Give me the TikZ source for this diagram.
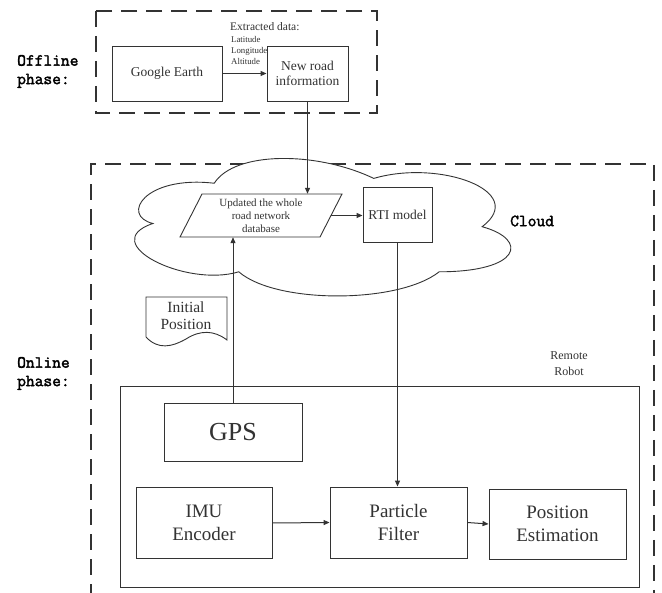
\documentclass[tikz,border=0pt]{standalone}
\usepackage{fontspec}
\setmainfont{Liberation Serif}
\newfontfamily\monof{Latin Modern Mono}[FakeBold=2.2]
\usetikzlibrary{arrows.meta}
\definecolor{ln}{HTML}{333333}
\newcommand\fsz[2]{\fontsize{#1}{#2}\selectfont}
\tikzset{
  box/.style={draw=ln, line width=0.9pt, inner sep=0pt, align=center, text=ln},
  arr/.style={draw=ln, line width=1pt, -{Triangle[length=6pt,width=5pt]}},
  dashbox/.style={draw=ln, line width=1.4pt, dash pattern=on 16pt off 9pt},
  phase/.style={font=\monof\fsz{17}{18.5}, align=left, anchor=west, inner sep=0pt, text=black},
  plain/.style={inner sep=0pt, align=center, text=ln},
  outline/.style={draw=ln, line width=0.9pt},
}
\begin{document}
\begin{tikzpicture}[x=1pt,y=-1pt]
\useasboundingbox (0,0) rectangle (662,593);
\fill[white] (0,0) rectangle (662,593);
% phase frames
\draw[dashbox] (96,11) rectangle (377,113);
\draw[dashbox] (91,600) -- (91,164) -- (654,164) -- (654,600);
\node[phase] (off) at (17,71.5) {Offline\\phase:};
\node[phase] (on) at (17,373.5) {Online\\phase:};
\node[phase] (cl) at (510,221) {Cloud};
% cloud
\begin{scope}[shift={(112,143)}, x=409pt, y=-161pt]
\draw[outline, fill=white] (0.25,0.25)
  .. controls (0.08,0.2) and (0.02,0.45) .. (0.1,0.5)
  .. controls (-0.04,0.62) and (0.18,0.9) .. (0.31,0.8)
  .. controls (0.4,1) and (0.7,1) .. (0.8,0.8)
  .. controls (1,0.8) and (1.02,0.6) .. (0.905,0.52)
  .. controls (1.02,0.3) and (0.8,0.1) .. (0.64,0.22)
  .. controls (0.5,0.05) and (0.3,0.05) .. (0.25,0.25) -- cycle;
\end{scope}
% offline
\node[box, minimum width=110pt, minimum height=55pt, font=\fsz{13.5}{15}] (ge) at (167,73.5) {Google Earth};
\node[box, minimum width=81pt, minimum height=55pt, font=\fsz{13.5}{15}] (nr) at (307.5,73.5) {New road\\information};
\draw[arr] (ge.east) -- (nr.west);
\node[plain, anchor=west, font=\fsz{11.5}{13}] (ext) at (230,27) {Extracted data:};
\node[plain, anchor=west, align=left, font=\fsz{8.8}{11}] (llb) at (231,50) {Latitude\\Longitude\\Altitude};
% cloud content
\draw[outline] (202,194) -- (342,194) -- (320,237) -- (180,237) -- cycle;
\node[plain, minimum width=140pt, minimum height=43pt, font=\fsz{11}{13}] (db) at (261,215.5) {Updated the whole\\road network\\database};
\node[box, minimum width=69pt, minimum height=55pt, font=\fsz{13.5}{15}] (rti) at (397.5,214.5) {RTI model};
\draw[arr] (nr.south) -- (nr.south |- db.north);
\draw[arr] (db.east) -- (db.east -| rti.west);
% initial position
\draw[outline] (146,337) -- (146,297) -- (227,297) -- (227,340)
  .. controls (214,330) and (200,330) .. (186,339)
  .. controls (172,347) and (158,350) .. (146,337);
\node[plain, font=\fsz{15.5}{17}] (ip) at (186,316) {Initial\\Position};
% remote robot
\node[draw=ln, line width=0.9pt, minimum width=519pt, minimum height=201pt, inner sep=0pt] (rr) at (379.5,486.5) {};
\node[plain, font=\fsz{12}{16}] (rrl) at (569,364) {Remote\\Robot};
\node[box, minimum width=138pt, minimum height=58pt, font=\fsz{26}{28}] (gps) at (233,432) {GPS};
\node[box, minimum width=136pt, minimum height=71pt, font=\fsz{19}{23}] (imu) at (204,523) {IMU\\Encoder};
\node[box, minimum width=137pt, minimum height=71pt, font=\fsz{19}{23}] (pf) at (398.5,522.5) {Particle\\Filter};
\node[box, minimum width=137pt, minimum height=70pt, font=\fsz{19}{23}] (pe) at (557.5,524) {Position\\Estimation};
\draw[arr] (gps.north) -- (gps.north |- db.south);
\draw[arr] (rti.south) -- (rti.south |- pf.north);
\draw[arr] (imu.east) -- (pf.west);
\draw[arr] (pf.east) -- (pe.west);
\end{tikzpicture}
\end{document}
